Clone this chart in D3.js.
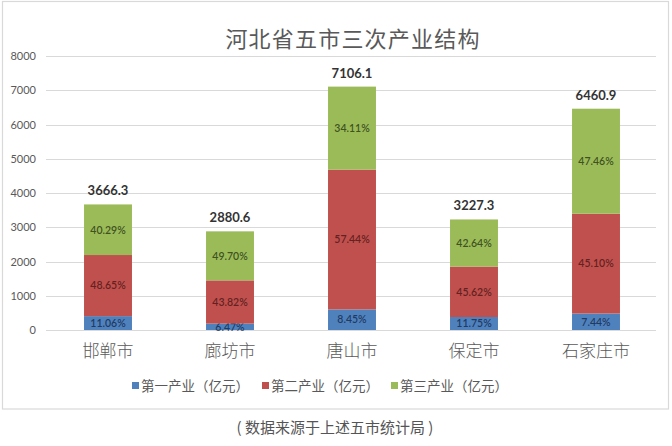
<!DOCTYPE html>
<html><head><meta charset="utf-8">
<script src="https://cdn.jsdelivr.net/npm/d3@7/dist/d3.min.js"></script>
<style>
html,body{margin:0;padding:0;background:#fff;}
svg{display:block;}
</style>
</head><body>
<script>
const title = "河北省五市三次产业结构";
const cities = ["邯郸市","廊坊市","唐山市","保定市","石家庄市"];
const seriesNames = ["第一产业（亿元）","第二产业（亿元）","第三产业（亿元）"];
const primary   = [405.5, 186.4, 600.5, 379.2, 480.7];
const secondary = [1783.6, 1262.3, 4081.7, 1472.3, 2913.9];
const tertiary  = [1477.2, 1431.7, 2423.9, 1376.1, 3066.4];
const totals    = ["3666.3","2880.6","7106.1","3227.3","6460.9"];
const pctPrimary   = ["11.06%","6.47%","8.45%","11.75%","7.44%"];
const pctSecondary = ["48.65%","43.82%","57.44%","45.62%","45.10%"];
const pctTertiary  = ["40.29%","49.70%","34.11%","42.64%","47.46%"];
const yTicks = [0,1000,2000,3000,4000,5000,6000,7000,8000];
const source = "( 数据来源于上述五市统计局 )";

const colors = ["#4F81BD","#C0504D","#9BBB59"];
const W = 672, H = 446;
const svg = d3.select("body").append("svg").attr("width", W).attr("height", H);

// outer chart border
svg.append("rect").attr("x",2.5).attr("y",1.5).attr("width",666).attr("height",407.5)
  .attr("fill","#fff").attr("stroke","#d9d9d9").attr("stroke-width",1.2);

const x = d3.scaleBand().domain(cities).range([47, 657]).paddingInner(0.607).paddingOuter(0.3035);
const y = d3.scaleLinear().domain([0, 8000]).range([330, 56]);

// gridlines
svg.append("g").selectAll("line").data(yTicks).join("line")
  .attr("x1", 46).attr("x2", 656)
  .attr("y1", d => Math.round(y(d)) + 0.5).attr("y2", d => Math.round(y(d)) + 0.5)
  .attr("stroke", "#d9d9d9").attr("stroke-width", 1);

// y axis labels
const yAxis = d3.axisLeft(y).tickValues(yTicks).tickSize(0).tickPadding(0).tickFormat(d3.format("d"));
const gy = svg.append("g").attr("transform","translate(36,0)").call(yAxis);
gy.select(".domain").remove();
gy.selectAll("text").attr("font-family","Lato, 'Liberation Sans', sans-serif")
  .attr("font-size", 11).attr("fill","#595959");

// stacked data
const rows = cities.map((c,i) => ({city:c, s0:primary[i], s1:secondary[i], s2:tertiary[i]}));
const stack = d3.stack().keys(["s0","s1","s2"])(rows);
const pcts = [pctPrimary, pctSecondary, pctTertiary];
const txtCol = ["#14284a","#4a1414","#27350f"];

stack.forEach((layer, k) => {
  const g = svg.append("g");
  g.selectAll("rect").data(layer).join("rect")
    .attr("x", d => x(d.data.city))
    .attr("width", x.bandwidth())
    .attr("y", d => y(d[1]))
    .attr("height", d => y(d[0]) - y(d[1]))
    .attr("fill", colors[k]);
  g.selectAll("text").data(layer).join("text")
    .attr("x", d => x(d.data.city) + x.bandwidth()/2)
    .attr("y", d => (y(d[0]) + y(d[1]))/2)
    .attr("dy","0.36em")
    .attr("text-anchor","middle")
    .attr("font-family","Lato, 'Liberation Sans', sans-serif")
    .attr("font-size", 10.5).attr("font-weight", 600)
    .attr("fill", txtCol[k]).attr("fill-opacity",0.8)
    .text((d,i) => pcts[k][i]);
});

// totals
svg.append("g").selectAll("text").data(rows).join("text")
  .attr("x", d => x(d.city) + x.bandwidth()/2)
  .attr("y", (d,i) => y(d.s0 + d.s1 + d.s2) - 9)
  .attr("text-anchor","middle")
  .attr("font-family","Lato, 'Liberation Sans', sans-serif")
  .attr("font-weight","bold").attr("font-size", 13).attr("fill","#333")
  .text((d,i) => totals[i]);

// x axis category labels
const xAxis = d3.axisBottom(x).tickSize(0).tickPadding(0);
const gx = svg.append("g").attr("transform","translate(0,348)").call(xAxis);
gx.select(".domain").remove();
gx.selectAll("text").attr("font-family","'Noto Sans CJK SC', sans-serif")
  .attr("font-size", 17).attr("font-weight", 300).attr("fill","#595959").attr("dy","0.5em");

// title
svg.append("text").attr("x", 353).attr("y", 47).attr("text-anchor","middle")
  .attr("font-family","'Noto Sans CJK SC', sans-serif").attr("font-size", 22)
  .attr("letter-spacing", 1.2)
  .attr("fill","#595959").text(title);

// legend
const legX = [132, 262, 391];
const leg = svg.append("g");
seriesNames.forEach((n,i) => {
  leg.append("rect").attr("x", legX[i]).attr("y", 382).attr("width",7).attr("height",7).attr("fill",colors[i]);
  leg.append("text").attr("x", legX[i] + 9).attr("y", 386).attr("dy","0.36em")
    .attr("font-family","'Noto Sans CJK SC', sans-serif").attr("font-size", 13.5)
    .attr("fill","#595959").text(n);
});

// source
svg.append("text").attr("x", 335).attr("y", 428).attr("dy","0.36em").attr("text-anchor","middle")
  .attr("font-family","'Noto Sans CJK SC', sans-serif").attr("font-size", 15)
  .attr("fill","#555").text(source);
</script>
</body></html>
